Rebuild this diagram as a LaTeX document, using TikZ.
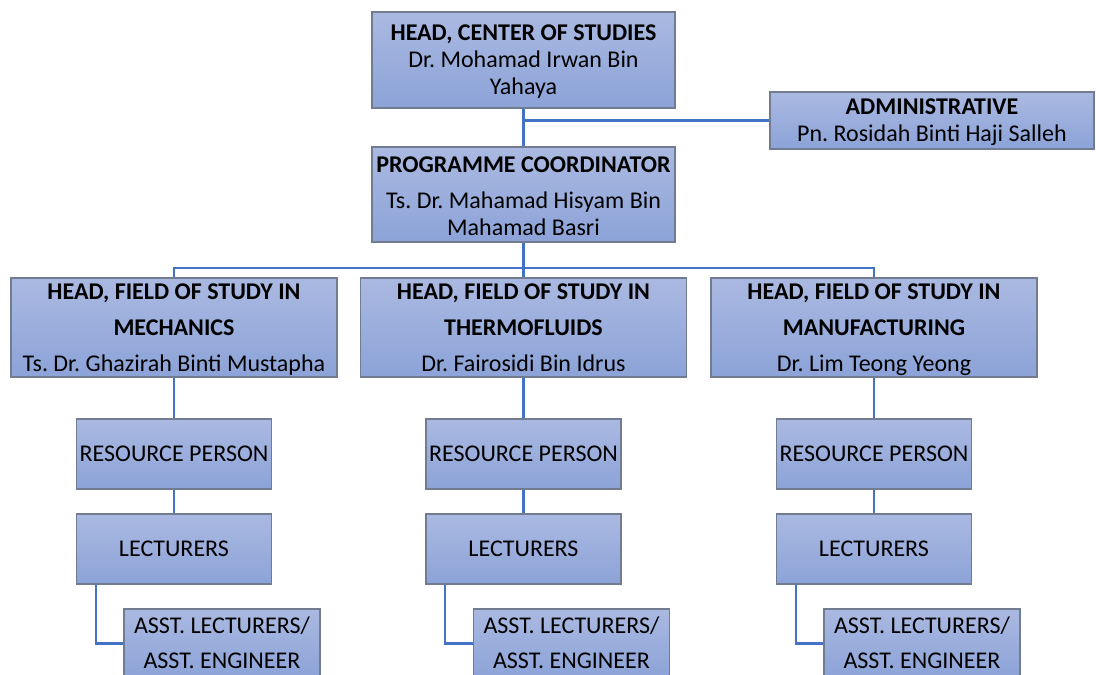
\documentclass[tikz,border=0pt]{standalone}
\usepackage{fontspec}
\setmainfont{Carlito}
\usetikzlibrary{backgrounds}
\frenchspacing
\newcommand\fst{\rule{0pt}{21pt}}
\newcommand\lst{\rule[-6pt]{0pt}{6pt}}
\definecolor{boxtop}{HTML}{AAB9E1}
\definecolor{boxbot}{HTML}{8CA3D8}
\definecolor{boxline}{HTML}{717C91}
\definecolor{conn}{HTML}{4472C4}
\tikzset{
  orgbox/.style={draw=boxline, line width=1.3pt, top color=boxtop, bottom color=boxbot,
    inner sep=0pt, align=center, text=black, font=\fontsize{24}{27}\selectfont},
  wide/.style={orgbox, minimum width=303pt, minimum height=96pt},
  field/.style={orgbox, minimum width=326pt, minimum height=97pt},
  small/.style={orgbox, minimum width=195pt, minimum height=70pt},
  asst/.style={orgbox, minimum width=196pt, minimum height=69pt},
  link/.style={draw=conn, line width=2.2pt}
}
\begin{document}
\begin{tikzpicture}[x=1pt,y=-1pt]
\useasboundingbox (0,0) rectangle (1096,675);
\clip (0,0) rectangle (1096,675);
\coordinate (bus) at (523.5,268);
\node[wide] (top) at (523.5,60) {\fst\textbf{HEAD, CENTER OF STUDIES}\\Dr. Mohamad Irwan Bin\\Yahaya\lst};
\node[orgbox, minimum width=324pt, minimum height=57pt] (admin) at (932,120.5) {\fst\textbf{ADMINISTRATIVE}\\Pn. Rosidah Binti Haji Salleh\lst};
\node[wide, minimum height=95pt] (coord) at (523.5,194.5) {\rule{0pt}{24pt}\textbf{PROGRAMME COORDINATOR}\\[9pt]Ts. Dr. Mahamad Hisyam Bin\\Mahamad Basri\lst};
\node[field] (f1) at (174,327.5) {\fst\textbf{HEAD, FIELD OF STUDY IN}\\[9pt]\textbf{MECHANICS}\\[9pt]Ts. Dr. Ghazirah Binti Mustapha\lst};
\node[field] (f2) at (523.5,327.5) {\fst\textbf{HEAD, FIELD OF STUDY IN}\\[9pt]\textbf{THERMOFLUIDS}\\[9pt]Dr. Fairosidi Bin Idrus\lst};
\node[field] (f3) at (874,327.5) {\fst\textbf{HEAD, FIELD OF STUDY IN}\\[9pt]\textbf{MANUFACTURING}\\[9pt]Dr. Lim Teong Yeong\lst};
\foreach \i/\x in {1/174,2/523.5,3/874}{
  \node[small] (r\i) at (\x,454) {\fst RESOURCE PERSON\lst};
  \node[small] (l\i) at (\x,549) {\fst LECTURERS\lst};
  \node[asst] (a\i) at (\x+48,643.5) {\fst ASST. LECTURERS/\\[8pt]ASST. ENGINEER\lst};
}
\begin{scope}[on background layer]
\fill[white] (0,0) rectangle (1096,675);
\foreach \i in {1,2,3}{
  \draw[link] (f\i.south) -- (r\i.north);
  \draw[link] (r\i.south) -- (l\i.north);
  \draw[link] ([xshift=20pt]l\i.south west) |- (a\i.west);
}
\draw[link] (top.south) -- (coord.north);
\draw[link] (admin.west) -| (top.south);
\draw[link] (coord.south) -- (bus);
\draw[link] (f1.north) |- (bus) -| (f3.north);
\draw[link] (bus) -- (f2.north);
\end{scope}
\end{tikzpicture}
\end{document}
